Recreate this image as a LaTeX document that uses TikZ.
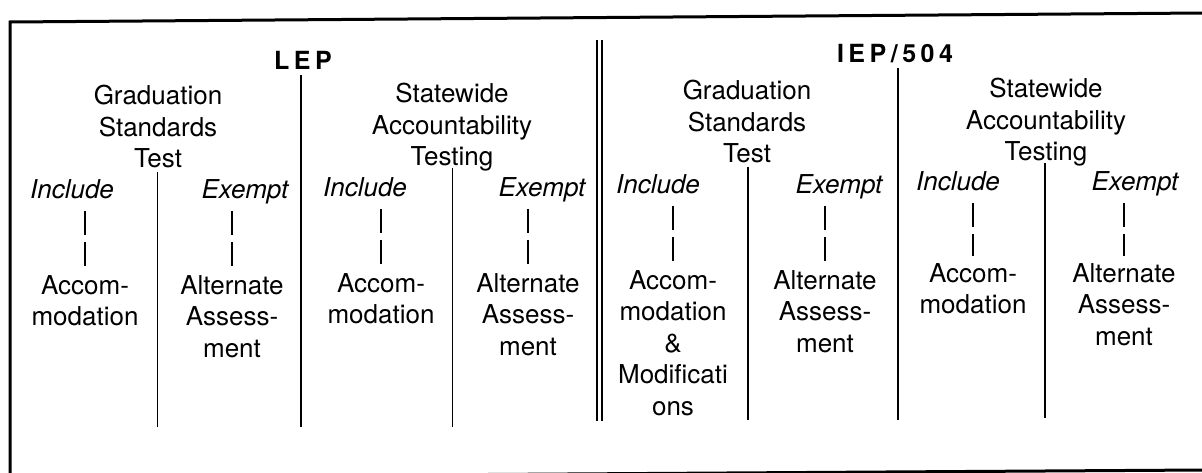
\documentclass[tikz,border=0pt]{standalone}
\usepackage{fontspec}
\setmainfont{TeX Gyre Heros}
\begin{document}
\begin{tikzpicture}[x=1pt,y=-1pt,
    title/.style={font=\fontsize{25}{30}\selectfont\bfseries\addfontfeature{LetterSpace=18}, inner sep=0pt},
    head/.style={font=\fontsize{26}{31.5}\selectfont, align=center, anchor=north, inner sep=0pt},
    choice/.style={font=\fontsize{26}{31.5}\selectfont\itshape, anchor=base, inner sep=0pt},
    cell/.style={font=\fontsize{26}{31.5}\selectfont, align=center, anchor=north, inner sep=0pt},
    tickbar/.style={line width=1.2pt, shorten <=12pt, shorten >=7pt, dash pattern=on 24pt off 7pt}]
  \useasboundingbox (0,0) rectangle (1202,473);
  % frame (the scan is a little skewed)
  \draw[line width=3pt] (1204,13) -- (10,22) -- (10,478);
  \draw[line width=3pt] (10,477.5) -- (1204,470);
  % dividers
  \draw[line width=1.2pt] (301,75) -- (301,427);
  \draw[line width=1pt] (157,172) -- (157,427);
  \draw[line width=1pt] (452,168) -- (452,427);
  \draw[line width=2pt] (596.5,40) -- (596.5,421);
  \draw[line width=2pt] (601.5,40) -- (601.5,421);
  \draw[line width=2.2pt] (898,68) -- (898,420);
  \draw[line width=1.8pt] (748,167) -- (748,420);
  \draw[line width=1.8pt] (1045,163) -- (1045,418);
  % headings
  \node[title] (lep) at (303,60) {LEP};
  \node[title] (iep) at (895,54) {IEP/504};
  \node[head] (lgst) at (158,85) {Graduation\\Standards\\Test};
  \node[head] (lsat) at (452,83) {Statewide\\Accountability\\Testing};
  \node[head] (igst) at (747,80) {Graduation\\Standards\\Test};
  \node[head] (isat) at (1046,78) {Statewide\\Accountability\\Testing};
  % include / exempt
  \node[choice] (lgi) at (72,199) {Include};
  \node[choice] (lge) at (245,199) {Exempt};
  \node[choice] (lsi) at (365,197) {Include};
  \node[choice] (lse) at (542,197) {Exempt};
  \node[choice] (igi) at (658,194) {Include};
  \node[choice] (ige) at (839,194) {Exempt};
  \node[choice] (isi) at (958,191) {Include};
  \node[choice] (ise) at (1135,191) {Exempt};
  % outcomes
  \node[cell] (lga) at (85,275) {Accom-\\modation};
  \node[cell] (lgb) at (232,275) {Alternate\\Assess-\\ment};
  \node[cell] (lsa) at (381,273) {Accom-\\modation};
  \node[cell] (lsb) at (528,273) {Alternate\\Assess-\\ment};
  \node[cell] (iga) at (673,270) {Accom-\\modation\\\&\\Modificati\\ons};
  \node[cell] (igb) at (825,270) {Alternate\\Assess-\\ment};
  \node[cell] (isa) at (973,263) {Accom-\\modation};
  \node[cell] (isb) at (1124,263) {Alternate\\Assess-\\ment};
  % bars
  \draw[tickbar] (lgi.base -| lga.north) -- (lga.north);
  \draw[tickbar] (lge.base -| lgb.north) -- (lgb.north);
  \draw[tickbar] (lsi.base -| lsa.north) -- (lsa.north);
  \draw[tickbar] (lse.base -| lsb.north) -- (lsb.north);
  \draw[tickbar] (igi.base -| iga.north) -- (iga.north);
  \draw[tickbar] (ige.base -| igb.north) -- (igb.north);
  \draw[tickbar] (isi.base -| isa.north) -- (isa.north);
  \draw[tickbar] (ise.base -| isb.north) -- (isb.north);
\end{tikzpicture}
\end{document}
